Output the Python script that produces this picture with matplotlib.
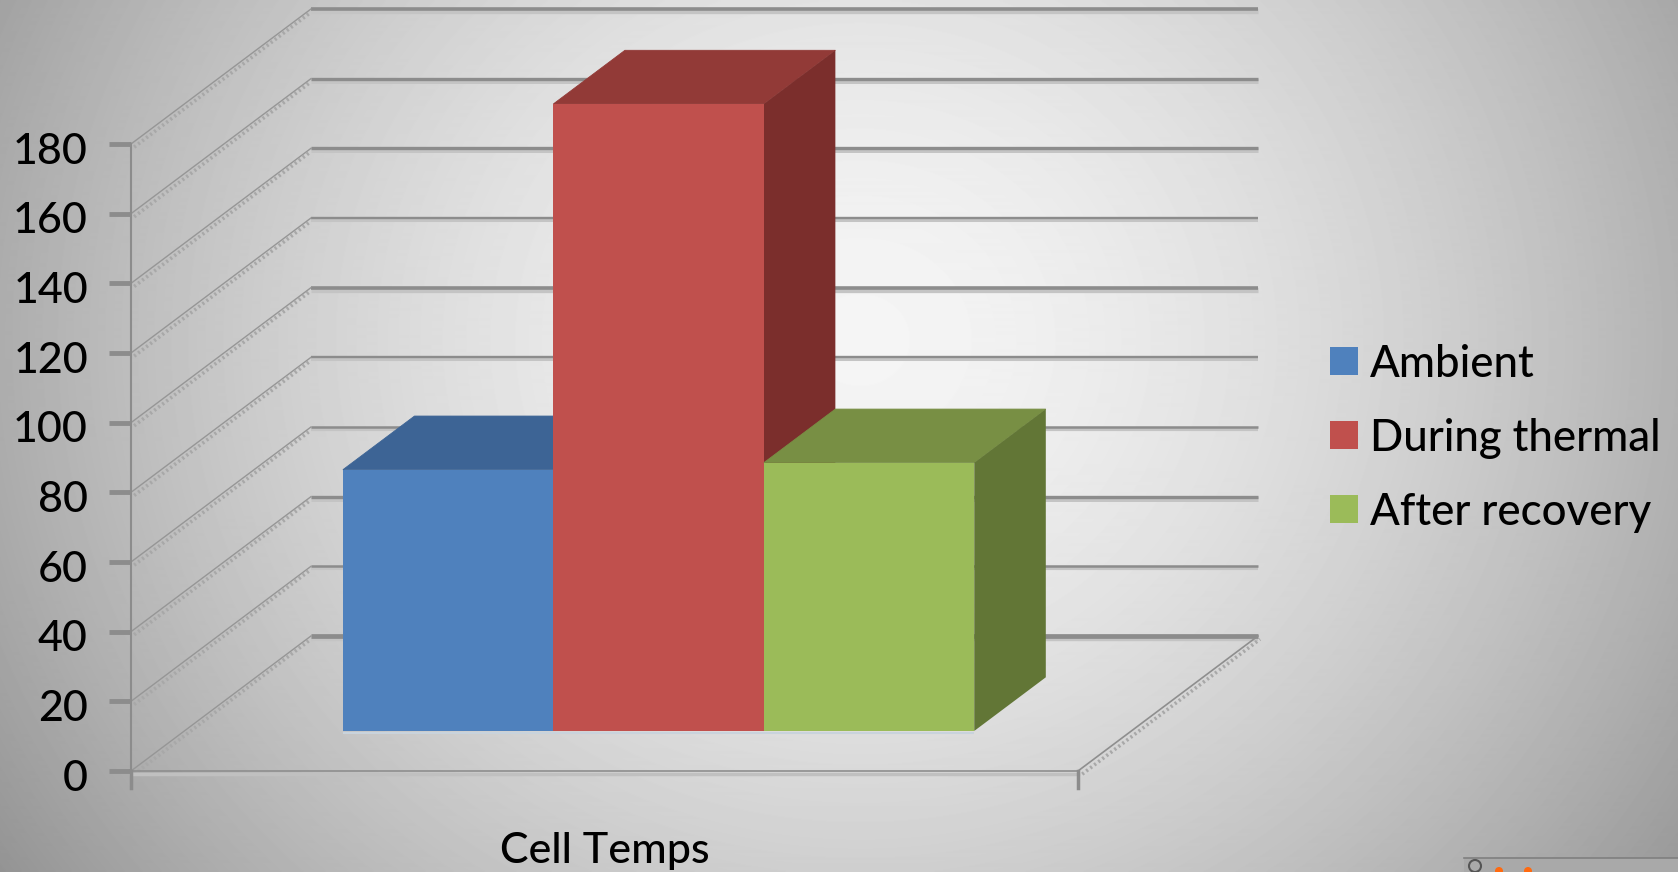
import numpy as np
import matplotlib
matplotlib.use('Agg')
import matplotlib.pyplot as plt
from matplotlib.patches import Polygon, Rectangle, Circle
from matplotlib.transforms import ScaledTranslation

plt.rcParams['font.family'] = ['Lato', 'DejaVu Sans']

series = ['Ambient', 'During thermal', 'After recovery']
values = [75, 180, 77]
category = 'Cell Temps'
ticks = [0, 20, 40, 60, 80, 100, 120, 140, 160, 180]
grid_widths = [3.4, 1.8, 2.4, 1.8, 1.7, 2.6, 1.7, 2.4, 2.4, 2.6]

front = ['#4F81BD', '#C0504D', '#9BBB59']
top = ['#3D6495', '#923A37', '#788F44']
side = ['#335279', '#7B2E2C', '#627636']

W, H = 1678, 872
fig = plt.figure(figsize=(W / 100, H / 100), dpi=100)

# grey radial background
bg = fig.add_axes([0, 0, 1, 1], zorder=0)
yy, xx = np.mgrid[0:H, 0:W]
r = np.sqrt(((xx - 860) / 1000) ** 2 + ((yy - 340) / 920) ** 2)
shade = np.clip(0.96 - 0.36 * r ** 1.6, 0, 1)
bg.imshow(shade, cmap='gray', vmin=0, vmax=1, aspect='auto', extent=[0, W, H, 0])
bg.axis('off')

# corner of an inset window
bg.add_patch(Rectangle((1464, 858), 214, 14, fc='#a9a9a9', ec='none'))
bg.plot([1464, 1678], [858, 858], color='#7f7f7f', lw=1.2)
bg.add_patch(Circle((1475, 866), 6, fc='none', ec='#555555', lw=1.5))
bg.add_patch(Circle((1499, 871), 4, fc='#ff6a10', ec='none'))
bg.add_patch(Circle((1528, 871), 4, fc='#ff6a10', ec='none'))
bg.set_xlim(0, W)
bg.set_ylim(H, 0)

ax = fig.add_axes([131 / W, (H - 771) / H, 947 / W, 627 / H], zorder=1)
ax.patch.set_alpha(0)
ax.set_xlim(0, 4.5)
ax.set_ylim(0, 180)
for s in ['top', 'right', 'bottom']:
    ax.spines[s].set_visible(False)
ax.spines['left'].set_color('#8c8c8c')
ax.spines['left'].set_linewidth(1.5)

# oblique offsets of the back wall and the bars, in data units
wall_dx, wall_dy = 0.855, 38.75
bar_dx, bar_dy = 0.252, 11.5
deep_dx, deep_dy = 0.34, 15.4
lefts = [0.755, 1.755, 2.755]

for t, lw in zip(ticks, grid_widths):
    y = t + wall_dy
    ax.plot([wall_dx, 4.5 + wall_dx], [y - 0.6, y - 0.6], color='#c4c4c4', lw=lw + 1.2,
            clip_on=False, zorder=1, solid_capstyle='butt')
    ax.plot([wall_dx, 4.5 + wall_dx], [y, y], color='#8c8c8c', lw=lw,
            clip_on=False, zorder=2, solid_capstyle='butt')
    # side wall edge with its small hatch
    ax.plot([0.015, wall_dx], [t - 0.9, y - 0.9], color='#a8a8a8', lw=2.6,
            ls=(0, (0.6, 0.8)), clip_on=False, zorder=1)
    ax.plot([0, wall_dx], [t, y], color='#969696', lw=1.0, clip_on=False, zorder=2)

# floor
ax.plot([0, 4.5], [-1.0, -1.0], color='#c0c0c0', lw=2.5, clip_on=False, zorder=1)
ax.plot([0, 4.5], [0, 0], color='#8e8e8e', lw=1.2, clip_on=False, zorder=2)
ax.plot([4.52, 4.5 + wall_dx + 0.01], [-0.9, wall_dy - 0.9], color='#a8a8a8', lw=2.6,
        ls=(0, (0.6, 0.8)), clip_on=False, zorder=1)
ax.plot([4.5, 4.5 + wall_dx], [0, wall_dy], color='#8e8e8e', lw=1.2, clip_on=False, zorder=2)

# bars: blue first, the red and green faces sit over it
for i, (x0, v) in enumerate(zip(lefts, values)):
    z = 3 + i
    xb = x0 + bar_dx
    base = bar_dy
    ax.bar(xb, v, width=1.0, bottom=base, align='edge', color=front[i], lw=0,
           clip_on=False, zorder=z + 0.5)
    ax.plot([xb, xb + 1], [base - 0.5, base - 0.5], color='#c9d3dc', lw=1.5,
            clip_on=False, zorder=z + 0.4, solid_capstyle='butt')
    yt = base + v
    ax.add_patch(Polygon([(xb, yt), (xb + 1, yt), (xb + 1 + deep_dx, yt + deep_dy),
                          (xb + deep_dx, yt + deep_dy)], fc=top[i], ec=top[i], lw=0.6,
                         clip_on=False, zorder=z))
    ax.add_patch(Polygon([(xb + 1, base), (xb + 1, yt), (xb + 1 + deep_dx, yt + deep_dy),
                          (xb + 1 + deep_dx, base + deep_dy)], fc=side[i], ec='none',
                         clip_on=False, zorder=z))

ax.set_yticks(ticks)
ax.set_yticklabels([str(t) for t in ticks], fontsize=31, color='black', fontweight='medium')
ax.tick_params(axis='y', length=16, width=3.5, color='#8c8c8c', pad=15)
label_shift = ScaledTranslation(0, -3 / 72, fig.dpi_scale_trans)
for lab in ax.get_yticklabels():
    lab.set_transform(lab.get_transform() + label_shift)
ax.set_xticks([2.25])
ax.set_xticklabels([category], fontsize=31, color='black', fontweight='medium')
ax.tick_params(axis='x', length=0, pad=44)

# short marks under both ends of the floor
ax.plot([0, 0], [0, -5], color='#8c8c8c', lw=2.5, clip_on=False, zorder=2)
ax.plot([4.5, 4.5], [0, -5], color='#8c8c8c', lw=2.5, clip_on=False, zorder=2)

# legend
for i, name in enumerate(series):
    y = 361 + i * 74
    bg.add_patch(Rectangle((1330, y - 14), 28, 28, fc=front[i], ec='none'))
    bg.text(1370, y + 3, name, fontsize=31.5, color='black', va='center', ha='left',
            zorder=5, fontweight='medium')

fig.savefig('out.png', dpi=100)
